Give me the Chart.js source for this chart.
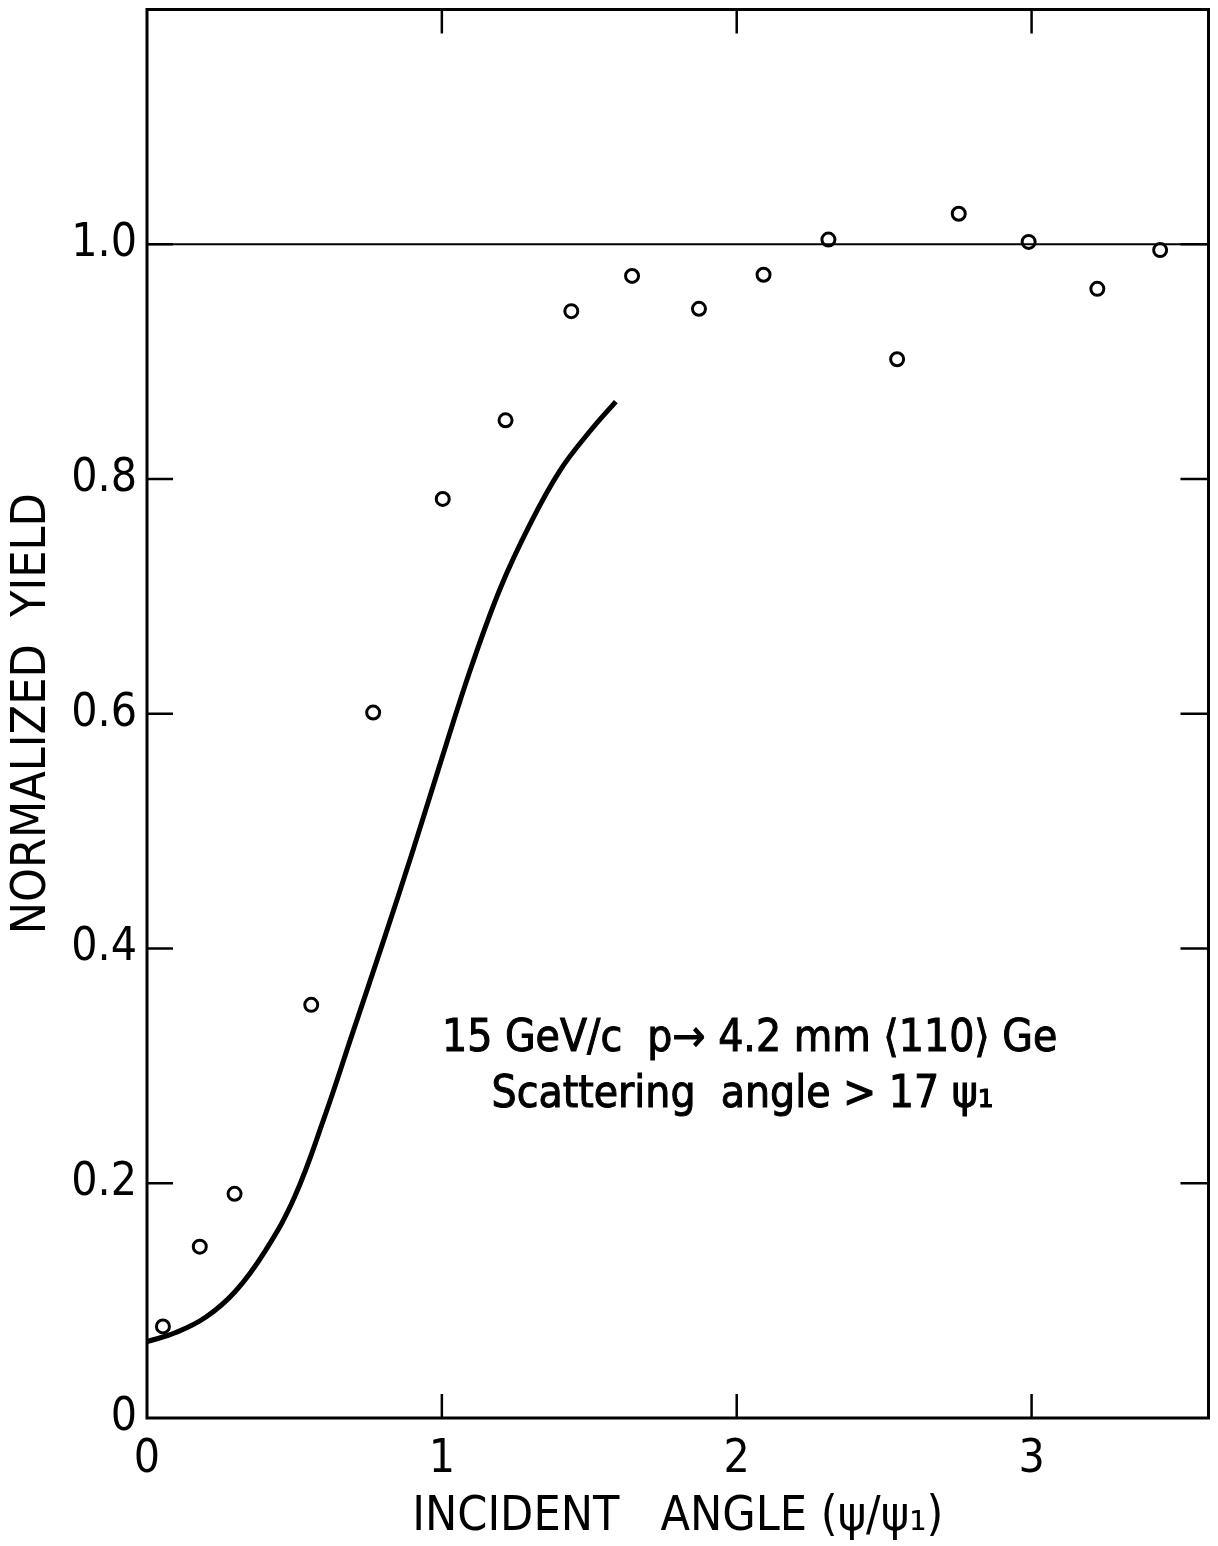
<!DOCTYPE html>
<html>
<head>
<meta charset="utf-8">
<script src="https://cdn.jsdelivr.net/npm/chart.js@4.4.1/dist/chart.umd.min.js"></script>
<style>
  html, body { margin: 0; padding: 0; background: #fff; }
  #wrap { width: 1218px; height: 1546px; }
</style>
</head>
<body>
<div id="wrap"><canvas id="myChart"></canvas></div>
<script>
// measured points (open circles)
const dataX = [0.054, 0.179, 0.297, 0.557, 0.767, 1.003, 1.216, 1.439, 1.645, 1.872, 2.091, 2.311, 2.544, 2.753, 2.990, 3.223, 3.436];
const dataY = [0.078, 0.146, 0.191, 0.352, 0.601, 0.783, 0.850, 0.943, 0.973, 0.945, 0.974, 1.004, 0.902, 1.026, 1.002, 0.962, 0.995];

const curveX = [0, 0.1, 0.2, 0.3, 0.4, 0.5, 0.6, 0.7, 0.8, 0.9, 1.0, 1.1, 1.2, 1.3, 1.4, 1.5, 1.59];
const curveY = [0.065, 0.073, 0.086, 0.108, 0.142, 0.188, 0.255, 0.330, 0.405, 0.482, 0.562, 0.640, 0.708, 0.762, 0.807, 0.840, 0.866];

// reference line
const refX = [0, 3.6];
const refY = [1.0, 1.0];

const xTicks = [0, 1, 2, 3];
const yTicks = [0, 0.2, 0.4, 0.6, 0.8, 1.0];

const notes = ['15 GeV/c  p\u2192 4.2 mm \u27E8110\u27E9 Ge', 'Scattering  angle > 17 \u03C8\u2081'];

const FONT = '"DejaVu Sans Condensed", "Liberation Sans Narrow", "DejaVu Sans", sans-serif';

function pts(xs, ys) {
  return xs.map((x, i) => ({ x: x, y: ys[i] }));
}

// frame, inward ticks and the annotation
const framePlugin = {
  id: 'frame',
  afterDraw(chart) {
    const ctx = chart.ctx;
    const a = chart.chartArea;
    const sx = chart.scales.x, sy = chart.scales.y;
    ctx.save();
    ctx.strokeStyle = '#000';
    ctx.lineWidth = 3;
    ctx.strokeRect(a.left, a.top, a.right - a.left, a.bottom - a.top);
    ctx.lineWidth = 2.5;
    ctx.beginPath();
    xTicks.forEach(v => {
      if (v == 0) return;
      let p = sx.getPixelForValue(v);
      ctx.moveTo(p, a.top); ctx.lineTo(p, a.top + 24);
      ctx.moveTo(p, a.bottom); ctx.lineTo(p, a.bottom - 24);
    });
    yTicks.forEach(v => {
      if (v == 0) return;
      let p = sy.getPixelForValue(v);
      ctx.moveTo(a.left, p); ctx.lineTo(a.left + 26, p);
      ctx.moveTo(a.right, p); ctx.lineTo(a.right - 28, p);
    });
    ctx.stroke();

    ctx.fillStyle = '#000';
    ctx.strokeStyle = '#000';
    ctx.lineWidth = 1;
    ctx.font = '44px ' + FONT;
    ctx.textAlign = 'center';
    ctx.textBaseline = 'middle';
    [[notes[0], 2.044, 0.322], [notes[1], 2.02, 0.275]].forEach(n => {
      let px = sx.getPixelForValue(n[1]), py = sy.getPixelForValue(n[2]);
      ctx.fillText(n[0], px, py);
      ctx.strokeText(n[0], px, py);
    });
    ctx.restore();
  }
};

new Chart(document.getElementById('myChart'), {
  type: 'scatter',
  data: {
    datasets: [
      {
        label: 'reference',
        data: pts(refX, refY),
        showLine: true,
        borderColor: '#000',
        borderWidth: 2,
        pointRadius: 0,
      },
      {
        label: 'curve',
        data: pts(curveX, curveY),
        showLine: true,
        borderColor: '#000',
        borderWidth: 5,
        pointRadius: 0,
        tension: 0.4,
      },
      {
        label: 'data',
        data: pts(dataX, dataY),
        pointStyle: 'circle',
        pointRadius: 6.5,
        pointBorderWidth: 3,
        pointBorderColor: '#000',
        pointBackgroundColor: '#fff',
      },
    ],
  },
  options: {
    responsive: true,
    maintainAspectRatio: false,
    animation: false,
    layout: { padding: { left: 0, right: 0, top: 9, bottom: 0 } },
    plugins: {
      legend: { display: false },
      tooltip: { enabled: false },
    },
    scales: {
      x: {
        type: 'linear',
        min: 0,
        max: 3.6,
        afterBuildTicks: s => { s.ticks = xTicks.map(v => ({ value: v })); },
        afterFit: s => { s.height = 128; s.paddingLeft = 0; s.paddingRight = 0; },
        grid: { display: false, drawTicks: false },
        border: { display: false },
        ticks: {
          padding: 14,
          color: '#000',
          font: { family: FONT, size: 46 },
          callback: v => String(v),
        },
        title: {
          display: true,
          text: 'INCIDENT   ANGLE (\u03C8/\u03C8\u2081)',
          color: '#000',
          font: { family: FONT, size: 48 },
          padding: { top: 0, bottom: 0 },
        },
      },
      y: {
        type: 'linear',
        min: 0,
        max: 1.2,
        afterBuildTicks: s => { s.ticks = yTicks.map(v => ({ value: v })); },
        afterFit: s => { s.width = 147; s.paddingTop = 0; s.paddingBottom = 0; },
        grid: { display: false, drawTicks: false },
        border: { display: false },
        ticks: {
          padding: 10,
          color: '#000',
          font: { family: FONT, size: 46 },
          callback: v => (v == 0 ? '0' : v.toFixed(1)),
        },
        title: {
          display: true,
          text: 'NORMALIZED  YIELD',
          color: '#000',
          font: { family: FONT, size: 48 },
          padding: { top: 4, bottom: 0 },
        },
      },
    },
  },
  plugins: [framePlugin],
});
</script>
</body>
</html>
